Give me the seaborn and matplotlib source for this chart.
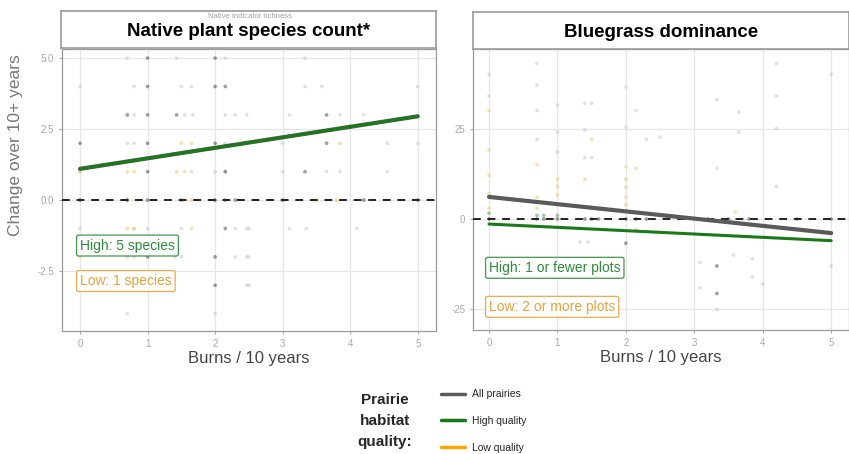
import numpy as np
import pandas as pd
import matplotlib
matplotlib.use("Agg")
import matplotlib.pyplot as plt
import seaborn as sns
from matplotlib.lines import Line2D

# ---- data ----
# Native plant species count (change over 10+ years vs burns / 10 years)
nat_dark_x = [0, 1.0, 1.0, 1.0, 1.0, 1.0, 2.0, 2.0, 2.0, 2.15, 2.15, 2.0, 2.0, 2.15, 0.7, 1.43,
              3.65, 3.65, 3.33, 1.0, 0, 0.7, 1.0, 1.5, 2.0, 2.15, 2.3, 3.0, 4.2, 5.0]
nat_dark_y = [2, 5, 4, 3, 2, 1, 5, 4, 2, 4, 1, -2, -3, -1, 3, 3,
              3, 2, 1, -2, 0, 0, 0, 0, 0, 0, 0, 0, 0, 0]
nat_light_x = [0.7, 1.43, 2.15, 3.33, 0, 0.8, 1.5, 1.65, 3.33, 3.58, 5.0,
               0.8, 1.55, 1.67, 2.15, 2.3, 2.47, 3.1, 3.85, 4.2,
               0.7, 0.8, 2.15, 3.0, 4.55, 5.0, 0, 1.65, 2.0, 2.15, 3.0, 3.65, 3.85, 4.55,
               0, 0.8, 1.0, 1.5, 2.3, 2.47, 2.5, 3.1, 3.35, 4.1,
               0.7, 0.8, 1.4, 1.5, 2.3, 2.47, 2.5, 2.47, 2.5, 0.7, 2.0]
nat_light_y = [5, 5, 5, 5, 4, 4, 4, 4, 4, 4, 4,
               3, 3, 3, 3, 3, 3, 3, 3, 3,
               2, 2, 2, 2, 2, 2, 1, 1, 1, 1, 1, 1, 1, 1,
               -1, -1, -1, -1, -1, -1, -1, -1, -1, -1,
               -2, -2, -2, -2, -2, -2, -2, -3, -3, -4, -4]
nat_low_x = [0.7, 0.8, 1.43, 1.55, 1.5, 1.65, 0, 0.7, 1.55, 1.65, 2.0, 3.5, 3.65, 3.8,
             0, 0, 0.7, 1.65, 3.85, 0, 0.8]
nat_low_y = [1, 1, 1, 1, 2, 2, 0, 0, 0, 0, 0, 0, 0, 0,
             -2, -3, -1, -1, 2, 1, -1]

# Bluegrass dominance
blue_dark_x = [0, 0.7, 0.8, 1.0, 1.4, 1.5, 1.6, 2.0, 2.15, 2.3, 3.2, 3.5, 3.8, 4.5, 5.0,
               3.33, 3.33, 2.0]
blue_dark_y = [0, 0, 0, 0, 0, 0, 0, 0, 0, 0, 0, 0, 0, 0, 0,
               -13, -20.6, -6.7]
blue_light_x = [0, 0, 0.7, 0.7, 0.7, 1.0, 1.0, 1.4, 1.4, 1.4, 1.5, 1.5, 2.0, 2.0, 2.15,
                2.5, 3.33, 3.65, 3.65, 4.2, 4.2, 4.2, 3.33, 4.2, 1.33, 1.45, 2.15, 3.08,
                3.57, 3.85, 3.85, 3.08, 4.0, 3.33, 5.0, 5.0, 2.3, 1.0, 0.7]
blue_light_y = [40, 34, 43, 37, 30, 31.5, 18.5, 32, 24.6, 17, 32, 17, 36.5, 25.4, 30,
                22.6, 33, 29.5, 24, 43, 34, 25, 14, 9, -6.3, -6.3, -3, -12,
                -10, -11, -16, -19, -18, -25, -13, 40, 22, 24, 22]
blue_low_x = [0, 0, 0, 0.7, 0.7, 1.0, 1.0, 1.0, 1.5, 1.4, 2.0, 2.0, 2.0, 2.0, 2.15, 0, 0.7,
              3.6, 2.15, 0, 2.0]
blue_low_y = [19, 7, 12, 15, 6, 11, 6.6, 9, 22, 11, 14.4, 8.8, 6, 11, 14, 3, 3,
              2, -3, 30, 4]
blue_high_x = [0, 0.7, 0.8, 1.0]
blue_high_y = [1.6, 1, 1, 1]

# fitted trend lines (burns 0 -> 5)
burns_ends = [0, 5]
nat_all_fit = [1.1, 2.95]
nat_high_fit = [1.1, 2.95]
blue_all_fit = [6.1, -3.9]
blue_high_fit = [-1.4, -6.0]

pt_palette = {"dark": "#3d3d3d", "light": "#c4c4c4", "low": "#f7c060", "high": "#3f9a3f"}
line_colors = {"All prairies": "#5a5a5a", "High quality": "#1a7a1a", "Low quality": "#ffa500"}


def points_frame(parts):
    rows = []
    for grp, xs, ys in parts:
        rows.append(pd.DataFrame({"burns": xs, "change": ys, "grp": grp}))
    return pd.concat(rows, ignore_index=True)


nat_df = points_frame([("light", nat_light_x, nat_light_y), ("low", nat_low_x, nat_low_y),
                       ("dark", nat_dark_x, nat_dark_y)])
blue_df = points_frame([("light", blue_light_x, blue_light_y), ("low", blue_low_x, blue_low_y),
                        ("dark", blue_dark_x, blue_dark_y), ("high", blue_high_x, blue_high_y)])

# ---- figure ----
sns.set_style("white")
plt.rcParams["font.family"] = ["Liberation Sans", "DejaVu Sans"]

W, H = 849, 454
fig = plt.figure(figsize=(W / 100, H / 100), dpi=100)


def box(l, t, r, b):
    return [l / W, 1 - b / H, (r - l) / W, (b - t) / H]


panels = [
    dict(rect=box(62, 49, 436, 331), strip=box(61, 11, 436, 48), df=nat_df,
         xlim=(-0.267, 5.27), ylim=(-4.61, 5.32), yticks=[-2.5, 0, 2.5, 5.0],
         ylabels=["-2.5", "0.0", "2.5", "5.0"], title="Native plant species count*",
         all_fit=nat_all_fit, high_fit=nat_high_fit,
         notes=[("High: 5 species", -1.6, "#2f8a3a"),
                ("Low: 1 species", -2.85, "#e8a33a")]),
    dict(rect=box(473, 49, 849, 330), strip=box(473, 12, 849, 49), df=blue_df,
         xlim=(-0.234, 5.26), ylim=(-30.7, 47), yticks=[-25, 0, 25],
         ylabels=["-25", "0", "25"], title="Bluegrass dominance",
         all_fit=blue_all_fit, high_fit=blue_high_fit,
         notes=[("High: 1 or fewer plots", -13.5, "#2f8a3a"),
                ("Low: 2 or more plots", -24.3, "#e8a33a")]),
]

for p in panels:
    ax = fig.add_axes(p["rect"])
    ax.set_xlim(*p["xlim"])
    ax.set_ylim(*p["ylim"])
    ax.set_xticks(range(6))
    ax.set_yticks(p["yticks"])
    ax.set_yticklabels(p["ylabels"])
    ax.grid(True, color="#e6e6e6", lw=0.9)
    ax.set_axisbelow(True)
    for s in ax.spines.values():
        s.set_color("#9a9a9a")
        s.set_linewidth(0.9)
    ax.tick_params(axis="both", labelsize=7, colors="#a8a8a8", length=2.5, width=0.8,
                   pad=3, direction="out", bottom=True, left=True)

    sns.scatterplot(data=p["df"], x="burns", y="change", hue="grp", palette=pt_palette,
                    s=7, alpha=0.5, linewidth=0, legend=False, ax=ax, zorder=2)
    ax.axhline(0, color="#222222", lw=1.4, ls=(0, (4, 3.5)), zorder=3)
    sns.lineplot(x=burns_ends, y=p["all_fit"], color=line_colors["All prairies"], lw=3.0,
                 ax=ax, zorder=4)
    sns.lineplot(x=burns_ends, y=p["high_fit"], color=line_colors["High quality"], lw=2.2,
                 ax=ax, zorder=5)
    ax.set_xlabel("Burns / 10 years", fontsize=12, color="#444444", labelpad=2)
    ax.set_ylabel("")

    for txt, yv, col in p["notes"]:
        ax.text(0, yv, txt, fontsize=10, color=col, ha="left", va="center", zorder=6,
                bbox=dict(boxstyle="round,pad=0.25,rounding_size=0.15", fc="white",
                          ec=col, lw=0.9, alpha=0.9))

    sax = fig.add_axes(p["strip"])
    sax.set_xticks([])
    sax.set_yticks([])
    for s in sax.spines.values():
        s.set_color("#9a9a9a")
        s.set_linewidth(1.2)
    sax.text(0.5, 0.45, p["title"], ha="center", va="center", fontsize=13.5,
             fontweight="bold", color="black", transform=sax.transAxes)

# faint text printed behind the first strip title
fig.text(250 / W, 1 - 16 / H, "Native indicator richness", fontsize=5.5, color="#a0a0a0",
         ha="center", va="center")

fig.text(16 / W, 1 - 145 / H, "Change over 10+ years", rotation=90, fontsize=12.5,
         color="#777777", ha="center", va="center")

# legend
fig.text(385 / W, 1 - 421 / H, "Prairie\nhabitat\nquality:", fontsize=11, fontweight="bold",
         ha="center", va="center", linespacing=1.6)
handles = [Line2D([0], [0], color=c, lw=2.5) for c in line_colors.values()]
fig.legend(handles, list(line_colors.keys()), loc="upper left",
           bbox_to_anchor=(432 / W, 1 - 380 / H), frameon=False, fontsize=7.5,
           handlelength=2.3, handletextpad=0.6, labelspacing=1.6)

fig.savefig("out.png", dpi=100)
